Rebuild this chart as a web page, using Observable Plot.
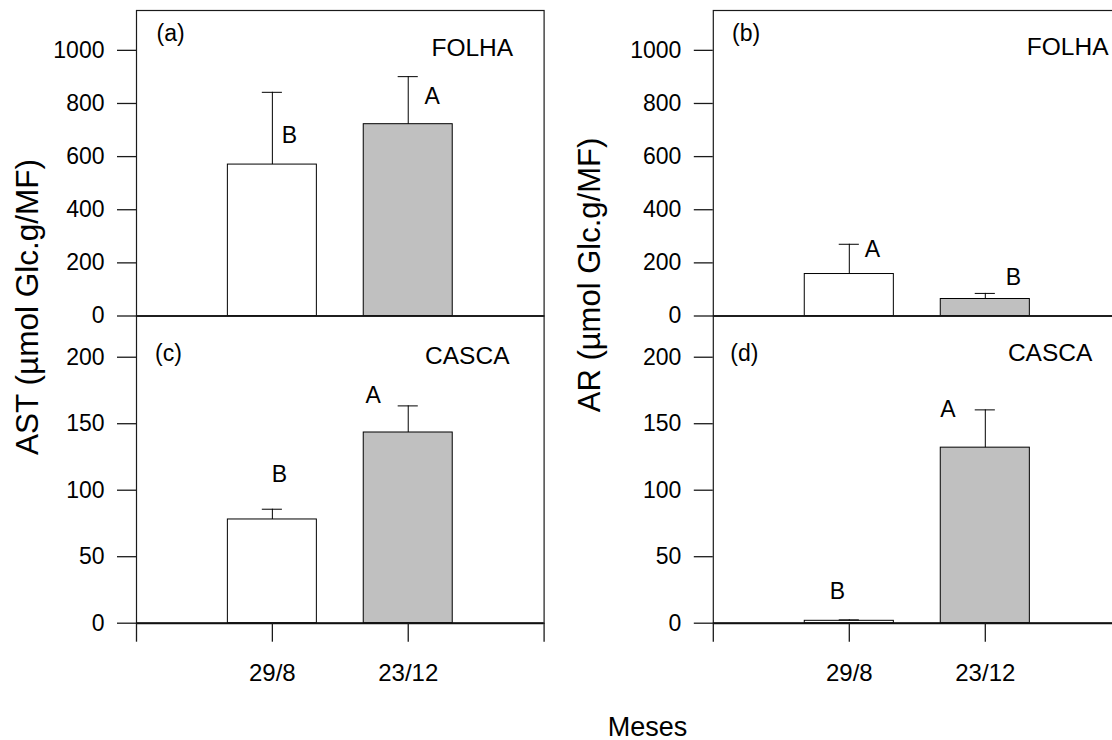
<!DOCTYPE html>
<html>
<head>
<meta charset="utf-8">
<script src="https://cdn.jsdelivr.net/npm/d3@7"></script>
<script src="https://cdn.jsdelivr.net/npm/@observablehq/plot@0.6"></script>
<style>
  html, body { margin: 0; padding: 0; background: white; }
  #fig { position: relative; width: 1112px; height: 740px; overflow: hidden; background: white;
         font-family: "Liberation Sans", Arial, sans-serif; color: black; }
  .pane { position: absolute; }
  .title { position: absolute; white-space: nowrap; line-height: 1; color: black; }
</style>
</head>
<body>
<div id="fig"></div>
<script>
// ---- data ----
const meses = ["29/8", "23/12"];

const astFolha = [570, 722];
const astFolhaErr = [272, 179];
const astFolhaLetras = ["B", "A"];

const arFolha = [158, 64];
const arFolhaErr = [112, 21];
const arFolhaLetras = ["A", "B"];

const astCasca = [78, 143.4];
const astCascaErr = [7.7, 20];
const astCascaLetras = ["B", "A"];

const arCasca = [1.8, 132];
const arCascaErr = [0.7, 28.4];
const arCascaLetras = ["B", "A"];

const ticksFolha = [0, 200, 400, 600, 800, 1000];
const ticksCasca = [0, 50, 100, 150, 200];

// ---- styles / layout ----
const barFills = ["white", "#c0c0c0"];
const FONT = "'Liberation Sans', Arial, sans-serif";
const BAR_HALF = 0.3275;   // half bar width (x units)
const CAP_HALF = 0.074;    // half error cap width (x units)

const fig = document.getElementById("fig");

function panel(cfg) {
  const rows = meses.map((m, k) => ({
    mes: m, i: k + 1, v: cfg.values[k], e: cfg.errors[k], letra: cfg.letters[k], k
  }));
  const letterMarks = rows.map((r, k) => Plot.text([r], {
    x: "i", y: d => d.v + d.e, text: "letra",
    dx: cfg.letterOffsets[k][0], dy: cfg.letterOffsets[k][1],
    fontSize: 23, fill: "black", textAnchor: "middle", lineAnchor: "middle"
  }));
  const marks = [
    Plot.rect(rows, {
      x1: d => d.i - BAR_HALF, x2: d => d.i + BAR_HALF, y1: 0, y2: "v",
      fill: d => barFills[d.k], stroke: "black", strokeWidth: 1
    }),
    Plot.ruleX(rows, {x: "i", y1: "v", y2: d => d.v + d.e, stroke: "black", strokeWidth: 1}),
    Plot.ruleY(rows, {y: d => d.v + d.e, x1: d => d.i - CAP_HALF, x2: d => d.i + CAP_HALF, stroke: "black", strokeWidth: 1}),
    Plot.frame({stroke: "#1a1a1a", strokeWidth: 1.2}),
    Plot.ruleY([0], {stroke: "#111", strokeWidth: cfg.showX ? 2 : 1.4}),
    Plot.axisY({ticks: cfg.yTicks, tickSize: 19, tickPadding: 13, label: null, tickFormat: d => String(d),
      stroke: "#1a1a1a", strokeWidth: 1.3, fontSize: 23}),
    ...letterMarks,
    Plot.text([cfg.tag], {text: d => d, frameAnchor: "top-left", dx: cfg.tagOffset[0], dy: cfg.tagOffset[1],
      textAnchor: "start", lineAnchor: "middle", fontSize: 23, fill: "black"}),
    Plot.text([cfg.tissue], {text: d => d, frameAnchor: "top-right", dx: cfg.tissueOffset[0], dy: cfg.tissueOffset[1],
      textAnchor: "end", lineAnchor: "middle", fontSize: 24.5, fill: "black"})
  ];
  if (cfg.showX) {
    marks.push(Plot.axisX({
      ticks: [0, 1, 2, 3], tickSize: 19, tickPadding: 22, label: null,
      tickFormat: d => (d === 1 ? meses[0] : d === 2 ? meses[1] : ""),
      stroke: "#1a1a1a", strokeWidth: 1.3, fontSize: 24
    }));
  }
  const g = cfg.geom;
  const svg = Plot.plot({
    width: g.width, height: g.height,
    marginLeft: g.mL, marginRight: g.mR, marginTop: g.mT, marginBottom: g.mB,
    x: {type: "linear", domain: [0, 3], axis: null},
    y: {type: "linear", domain: cfg.yDomain, axis: null},
    color: {type: "identity"},
    style: {fontFamily: FONT, fontSize: "23px", background: "transparent", overflow: "visible", color: "black", maxWidth: "none"},
    marks
  });
  svg.classList.add("pane");
  svg.style.left = g.left + "px";
  svg.style.top = g.top + "px";
  fig.appendChild(svg);
}

panel({
  values: astFolha, errors: astFolhaErr, letters: astFolhaLetras,
  yDomain: [0, 1150], yTicks: ticksFolha, showX: false,
  tag: "(a)", tissue: "FOLHA",
  letterOffsets: [[17, 43], [24, 20]], tagOffset: [20, 23], tissueOffset: [-31, 38],
  geom: {left: 0, top: 0, width: 560, height: 330, mL: 136, mR: 16.4, mT: 10, mB: 14.5}
});
panel({
  values: arFolha, errors: arFolhaErr, letters: arFolhaLetras,
  yDomain: [0, 1150], yTicks: ticksFolha, showX: false,
  tag: "(b)", tissue: "FOLHA",
  letterOffsets: [[23, 5], [28, -16]], tagOffset: [18.7, 23], tissueOffset: [-12.8, 37],
  geom: {left: 560, top: 0, width: 580, height: 330, mL: 152.8, mR: 19.2, mT: 10, mB: 14.5}
});
panel({
  values: astCasca, errors: astCascaErr, letters: astCascaLetras,
  yDomain: [0, 231], yTicks: ticksCasca, showX: true,
  tag: "(c)", tissue: "CASCA",
  letterOffsets: [[7, -35], [-35, -10]], tagOffset: [18.6, 37.8], tissueOffset: [-34.6, 40.2],
  geom: {left: 0, top: 306, width: 560, height: 400, mL: 136, mR: 16.4, mT: 9.5, mB: 83.3}
});
panel({
  values: arCasca, errors: arCascaErr, letters: arCascaLetras,
  yDomain: [0, 231], yTicks: ticksCasca, showX: true,
  tag: "(d)", tissue: "CASCA",
  letterOffsets: [[-12, -28], [-37.5, 0]], tagOffset: [17, 37.2], tissueOffset: [-29, 37.2],
  geom: {left: 560, top: 306, width: 580, height: 400, mL: 152.8, mR: 19.2, mT: 9.5, mB: 83.3}
});

function title(text, cx, cy, size, rotate) {
  const d = document.createElement("div");
  d.className = "title";
  d.textContent = text;
  d.style.left = cx + "px";
  d.style.top = cy + "px";
  d.style.fontSize = size + "px";
  d.style.transform = "translate(-50%, -50%)" + (rotate ? " rotate(-90deg)" : "");
  fig.appendChild(d);
}
title("AST (µmol Glc.g/MF)", 27.5, 306.7, 31.5, true);
title("AR (µmol Glc.g/MF)", 589, 275, 31, true);
title("Meses", 647.5, 727, 27, false);
</script>
</body>
</html>
